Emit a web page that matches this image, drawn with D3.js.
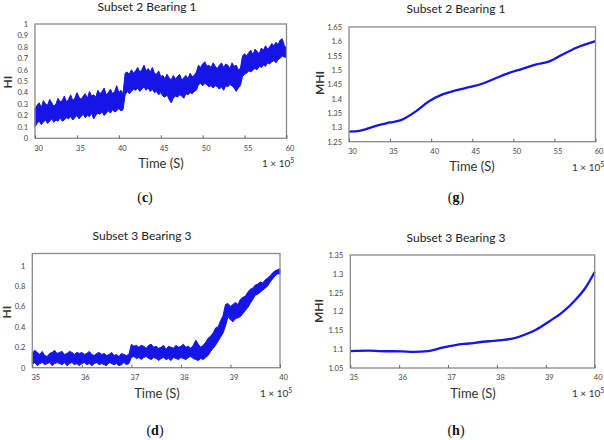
<!DOCTYPE html>
<html>
<head>
<meta charset="utf-8">
<script src="https://cdn.jsdelivr.net/npm/d3@7"></script>
<style>
  body { margin: 0; background: #fff; }
  svg { display: block; }
  text { font-family: Lato, "Open Sans", sans-serif; }
</style>
</head>
<body>
<div id="chart"></div>
<script>
// ---- data ----

// (c) Subset 2 Bearing 1, HI band, x = 30..60 step 0.25 (x 1e5 s)
var cStart = 30, cStep = 0.25;
var cUpper = [0.26,0.29,0.31,0.27,0.33,0.30,0.29,0.34,0.31,0.28,0.30,0.35,0.32,0.33,0.37,0.32,
  0.34,0.38,0.33,0.35,0.40,0.36,0.34,0.37,0.39,0.35,0.41,0.37,0.38,0.36,0.42,0.39,
  0.41,0.44,0.38,0.40,0.43,0.39,0.41,0.46,0.40,0.42,0.39,0.57,0.58,0.56,0.60,0.57,
  0.59,0.62,0.58,0.60,0.64,0.59,0.61,0.58,0.62,0.57,0.56,0.59,0.54,0.55,0.52,0.56,
  0.53,0.51,0.55,0.52,0.54,0.56,0.51,0.53,0.55,0.52,0.57,0.54,0.55,0.58,0.64,0.62,
  0.65,0.67,0.63,0.64,0.62,0.66,0.63,0.61,0.64,0.66,0.62,0.65,0.64,0.61,0.66,0.63,
  0.64,0.60,0.61,0.72,0.74,0.72,0.75,0.77,0.73,0.78,0.76,0.74,0.79,0.77,0.81,0.78,
  0.80,0.83,0.81,0.84,0.82,0.86,0.87,0.81,0.79];
var cLower = [0.10,0.13,0.15,0.12,0.14,0.16,0.13,0.15,0.17,0.14,0.16,0.15,0.18,0.15,0.16,0.18,
  0.17,0.19,0.16,0.18,0.20,0.17,0.19,0.21,0.18,0.20,0.19,0.22,0.17,0.20,0.22,0.21,
  0.23,0.20,0.22,0.24,0.22,0.25,0.23,0.24,0.26,0.24,0.25,0.38,0.41,0.39,0.41,0.43,
  0.42,0.44,0.41,0.43,0.45,0.42,0.44,0.41,0.43,0.40,0.41,0.38,0.40,0.37,0.36,0.38,
  0.34,0.31,0.35,0.37,0.36,0.38,0.37,0.35,0.39,0.38,0.40,0.39,0.41,0.42,0.47,0.48,
  0.46,0.48,0.47,0.45,0.46,0.44,0.46,0.45,0.43,0.45,0.42,0.46,0.45,0.47,0.46,0.44,
  0.41,0.44,0.46,0.54,0.56,0.57,0.59,0.58,0.60,0.61,0.60,0.63,0.62,0.64,0.63,0.66,
  0.65,0.67,0.68,0.66,0.69,0.70,0.72,0.71,0.71];

// (g) Subset 2 Bearing 1, MHI
var gTime = [30, 31.1, 32, 33.6, 35, 36.4, 38.1, 39.7, 41.3, 43, 44.6, 46.2, 47.9, 49.5, 51.1, 52.7, 54.4, 56, 57.6, 60];
var gMHI  = [1.285, 1.287, 1.293, 1.308, 1.317, 1.326, 1.355, 1.39, 1.414, 1.429, 1.44, 1.452, 1.472, 1.49, 1.504, 1.519, 1.53, 1.554, 1.577, 1.601];

// (d) Subset 3 Bearing 3, HI band, x = 35..40 step 0.05
var dStart = 35, dStep = 0.05;
var dUpper = [0.14,0.17,0.15,0.13,0.16,0.12,0.11,0.14,0.15,0.17,0.14,0.15,0.16,0.13,0.14,0.16,0.15,0.13,0.15,0.14,
  0.15,0.13,0.14,0.16,0.13,0.12,0.14,0.15,0.13,0.14,0.12,0.13,0.15,0.12,0.13,0.11,0.14,0.13,0.12,0.13,
  0.23,0.21,0.22,0.20,0.22,0.21,0.19,0.22,0.23,0.20,0.21,0.19,0.20,0.22,0.18,0.21,0.20,0.19,0.22,0.20,
  0.21,0.23,0.20,0.21,0.19,0.22,0.27,0.23,0.20,0.22,0.25,0.29,0.31,0.34,0.39,0.40,0.46,0.51,0.62,0.63,
  0.60,0.62,0.64,0.62,0.67,0.69,0.70,0.74,0.77,0.78,0.81,0.82,0.84,0.83,0.86,0.88,0.90,0.93,0.95,0.96,0.97];
var dLower = [0.03,0.05,0.02,0.04,0.05,0.03,0.04,0.05,0.02,0.04,0.05,0.04,0.03,0.05,0.02,0.04,0.05,0.03,0.04,0.02,
  0.04,0.05,0.03,0.04,0.02,0.04,0.05,0.03,0.04,0.03,0.02,0.05,0.04,0.03,0.04,0.02,0.03,0.05,0.03,0.04,
  0.10,0.11,0.09,0.10,0.08,0.10,0.11,0.09,0.08,0.10,0.09,0.07,0.09,0.10,0.08,0.09,0.07,0.10,0.09,0.08,
  0.10,0.09,0.08,0.10,0.11,0.09,0.08,0.07,0.09,0.08,0.10,0.12,0.16,0.19,0.22,0.26,0.30,0.34,0.41,0.50,
  0.47,0.45,0.48,0.49,0.50,0.53,0.56,0.59,0.63,0.67,0.71,0.72,0.74,0.76,0.78,0.80,0.84,0.87,0.90,0.92,0.92];

// (h) Subset 3 Bearing 3, MHI
var hTime = [35, 35.38, 35.58, 36.06, 36.3, 36.6, 36.88, 37.15, 37.42, 37.83, 38.1, 38.38, 38.58, 38.79, 39.06, 39.33, 39.6, 39.8, 40];
var hMHI  = [1.095, 1.096, 1.095, 1.094, 1.093, 1.095, 1.104, 1.111, 1.115, 1.121, 1.124, 1.13, 1.139, 1.151, 1.173, 1.197, 1.23, 1.261, 1.305];

var ticksC = [0,0.1,0.2,0.3,0.4,0.5,0.6,0.7,0.8,0.9,1];
var ticksD = [0,0.2,0.4,0.6,0.8,1];
var ticksG = [1.25,1.3,1.35,1.4,1.45,1.5,1.55,1.6,1.65];
var ticksH = [1.05,1.1,1.15,1.2,1.25,1.3,1.35];

var BLUE = "#1515e8";

var svg = d3.select("#chart").append("svg")
    .attr("width", 604)
    .attr("height", 440);

function band(start, step, upper, lower) {
  return upper.map(function(u, i) {
    return { x: start + i * step, hi: u, lo: lower[i] };
  });
}

function drawPanel(p) {
  var x = d3.scaleLinear().domain(p.xDomain).range([p.left, p.right]);
  var y = d3.scaleLinear().domain(p.yDomain).range([p.bottom, p.top]);
  var g = svg.append("g");

  // data
  if (p.band) {
    var area = d3.area()
        .x(function(d) { return x(d.x); })
        .y0(function(d) { return y(d.lo); })
        .y1(function(d) { return y(d.hi); });
    g.append("path")
        .datum(p.band)
        .attr("d", area)
        .attr("fill", BLUE)
        .attr("stroke", BLUE)
        .attr("stroke-width", 1)
        .attr("stroke-linejoin", "miter")
        .attr("stroke-miterlimit", 3);
  } else {
    var line = d3.line()
        .x(function(d) { return x(d[0]); })
        .y(function(d) { return y(d[1]); })
        .curve(d3.curveMonotoneX);
    g.append("path")
        .datum(d3.zip(p.xs, p.ys))
        .attr("d", line)
        .attr("fill", "none")
        .attr("stroke", BLUE)
        .attr("stroke-width", 2.3);
  }

  // frame
  g.append("rect")
      .attr("x", p.left).attr("y", p.top)
      .attr("width", p.right - p.left).attr("height", p.bottom - p.top)
      .attr("fill", "none")
      .attr("stroke", "#8a8a8a")
      .attr("stroke-width", 1.3);

  // x axis: small inward ticks
  var xAxis = d3.axisBottom(x).tickValues(p.xTicks).tickSize(-3).tickPadding(7)
      .tickFormat(d3.format("d"));
  var ax = g.append("g").attr("transform", "translate(0," + p.bottom + ")").call(xAxis);
  ax.select(".domain").remove();
  ax.selectAll("line").attr("stroke", "#666");
  ax.selectAll("text")
      .attr("fill", "#444")
      .attr("dx", 3)
      .style("font-size", "7.5px")
      .style("font-family", "Lato, sans-serif");

  // y axis: labels only
  var yAxis = d3.axisLeft(y).tickValues(p.yTicks).tickSize(0).tickPadding(7)
      .tickFormat(function(d) { return String(+d.toFixed(2)); });
  var ay = g.append("g").attr("transform", "translate(" + p.left + ",0)").call(yAxis);
  ay.select(".domain").remove();
  ay.selectAll("text")
      .attr("fill", "#444")
      .style("font-size", "7.5px")
      .style("font-family", "Lato, sans-serif");

  // texts
  g.append("text")
      .attr("x", p.titleX).attr("y", p.titleY)
      .attr("text-anchor", "middle")
      .attr("fill", "#222")
      .style("font-size", "12px")
      .text(p.title);

  g.append("text")
      .attr("x", p.xlabX).attr("y", p.xlabY)
      .attr("text-anchor", "middle")
      .attr("fill", "#333")
      .style("font-size", "13px")
      .text("Time (S)");

  var mult = g.append("text")
      .attr("x", p.multX).attr("y", p.multY)
      .attr("fill", "#333")
      .style("font-size", "10px");
  mult.append("tspan").text("1 \u00d7 10");
  mult.append("tspan").attr("dy", -4).style("font-size", "7px").text("5");

  g.append("text")
      .attr("transform", "translate(" + p.ylabX + "," + p.ylabY + ") rotate(-90)")
      .attr("text-anchor", "middle")
      .attr("fill", "#333")
      .style("font-size", "12px")
      .style("font-weight", "bold")
      .text(p.ylab);

  var cap = g.append("text")
      .attr("x", p.capX).attr("y", p.capY)
      .attr("text-anchor", "middle")
      .attr("fill", "#111")
      .style("font-family", "'Liberation Serif', 'DejaVu Serif', serif")
      .style("font-size", "14px");
  cap.append("tspan").text("(");
  cap.append("tspan").style("font-weight", "bold").text(p.cap);
  cap.append("tspan").text(")");
}

drawPanel({
  band: band(cStart, cStep, cUpper, cLower),
  xDomain: [30, 60], yDomain: [0, 1],
  left: 35, right: 286.5, top: 24, bottom: 138.3,
  xTicks: [30,35,40,45,50,55,60], yTicks: ticksC,
  title: "Subset 2 Bearing 1", titleX: 147, titleY: 11,
  xlabX: 161, xlabY: 168, multX: 262, multY: 167,
  ylab: "HI", ylabX: 12, ylabY: 82,
  cap: "c", capX: 145, capY: 202
});

drawPanel({
  xs: gTime, ys: gMHI,
  xDomain: [30, 60], yDomain: [1.25, 1.65],
  left: 349, right: 595.5, top: 27, bottom: 141.7,
  xTicks: [30,35,40,45,50,55,60], yTicks: ticksG,
  title: "Subset 2 Bearing 1", titleX: 456, titleY: 13,
  xlabX: 472, xlabY: 171, multX: 572, multY: 171,
  ylab: "MHI", ylabX: 324, ylabY: 83,
  cap: "g", capX: 456, capY: 202
});

drawPanel({
  band: band(dStart, dStep, dUpper, dLower),
  xDomain: [35, 40], yDomain: [0, 1.12],
  left: 32.3, right: 280, top: 253.5, bottom: 367.7,
  xTicks: [35,36,37,38,39,40], yTicks: ticksD,
  title: "Subset 3 Bearing 3", titleX: 142, titleY: 240,
  xlabX: 157, xlabY: 398, multX: 260, multY: 397,
  ylab: "HI", ylabX: 11, ylabY: 312,
  cap: "d", capX: 155, capY: 435
});

drawPanel({
  xs: hTime, ys: hMHI,
  xDomain: [35, 40], yDomain: [1.05, 1.35],
  left: 350.3, right: 594.7, top: 255, bottom: 368,
  xTicks: [35,36,37,38,39,40], yTicks: ticksH,
  title: "Subset 3 Bearing 3", titleX: 456, titleY: 242,
  xlabX: 473, xlabY: 398, multX: 572, multY: 397,
  ylab: "MHI", ylabX: 323, ylabY: 311,
  cap: "h", capX: 456, capY: 435
});
</script>
</body>
</html>
